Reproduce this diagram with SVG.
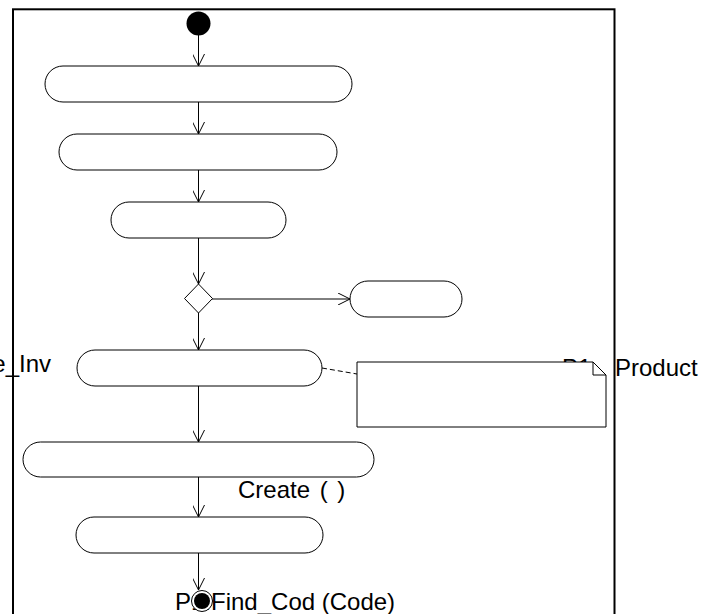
<svg xmlns="http://www.w3.org/2000/svg" width="717" height="614" viewBox="0 0 717 614">
<defs>
<style>
.act{fill:#fff;stroke:#000;stroke-width:1}
.edge{fill:none;stroke:#000;stroke-width:1}
.lbl{font-family:"Liberation Sans",Arial,sans-serif;font-size:24px;fill:#000}
</style>
<marker id="open" viewBox="0 0 12 12" refX="12" refY="6" markerWidth="12" markerHeight="12" markerUnits="userSpaceOnUse" orient="auto">
<path d="M0,0 L12,6 L0,12" fill="none" stroke="#000" stroke-width="1"/>
</marker>
</defs>
<rect width="717" height="614" fill="#fff"/>
<g id="frame"><rect x="13" y="9.3" width="601.5" height="620" fill="none" stroke="#000" stroke-width="2"/></g>
<g id="labels">
<text class="lbl" x="51" y="372" text-anchor="end">e_Inv</text>
<text class="lbl" x="562" y="376">P1</text>
<text class="lbl" x="615" y="376">Product</text>
<text class="lbl" x="238" y="498" word-spacing="3">Create ( )</text>
<text class="lbl" x="175" y="610">P1.Find_Cod (Code)</text>
</g>
<g id="connectors">
<line class="edge" x1="198.5" y1="35" x2="198.5" y2="66" marker-end="url(#open)"/>
<line class="edge" x1="198.5" y1="102" x2="198.5" y2="134" marker-end="url(#open)"/>
<line class="edge" x1="198.5" y1="170" x2="198.5" y2="202" marker-end="url(#open)"/>
<line class="edge" x1="198.5" y1="238" x2="198.5" y2="284" marker-end="url(#open)"/>
<line class="edge" x1="212" y1="299" x2="350" y2="299" marker-end="url(#open)"/>
<line class="edge" x1="198.5" y1="313" x2="198.5" y2="350" marker-end="url(#open)"/>
<line class="edge" x1="198.5" y1="386" x2="198.5" y2="442" marker-end="url(#open)"/>
<line class="edge" x1="198.5" y1="477" x2="198.5" y2="517" marker-end="url(#open)"/>
<line class="edge" x1="198.5" y1="553" x2="198.5" y2="590" marker-end="url(#open)"/>
<line class="edge" x1="322" y1="368" x2="357" y2="374" stroke-dasharray="5,3"/>
</g>
<g id="start"><circle cx="198.5" cy="23.5" r="12" fill="#000"/></g>
<g id="a1"><rect class="act" x="45" y="66" width="307" height="36" rx="18"/></g>
<g id="a2"><rect class="act" x="59" y="134" width="278" height="36" rx="18"/></g>
<g id="a3"><rect class="act" x="111" y="202" width="175" height="36" rx="18"/></g>
<g id="decision"><polygon class="act" points="198.5,284 212.5,298.5 198.5,313 184.5,298.5"/></g>
<g id="a_right"><rect class="act" x="350" y="281" width="112" height="36" rx="18"/></g>
<g id="a4"><rect class="act" x="77" y="350" width="245" height="36" rx="18"/></g>
<g id="note"><path class="act" d="M357,362 H593 L606,375 V427 H357 Z"/><path class="edge" d="M593,362 V375 H606"/></g>
<g id="a5"><rect class="act" x="23" y="442" width="351" height="35" rx="17.5"/></g>
<g id="a6"><rect class="act" x="76" y="517" width="247" height="36" rx="18"/></g>
<g id="final"><circle cx="202" cy="601" r="10.5" fill="#fff" stroke="#000" stroke-width="1"/><circle cx="202" cy="601" r="8" fill="#000"/></g>
</svg>
